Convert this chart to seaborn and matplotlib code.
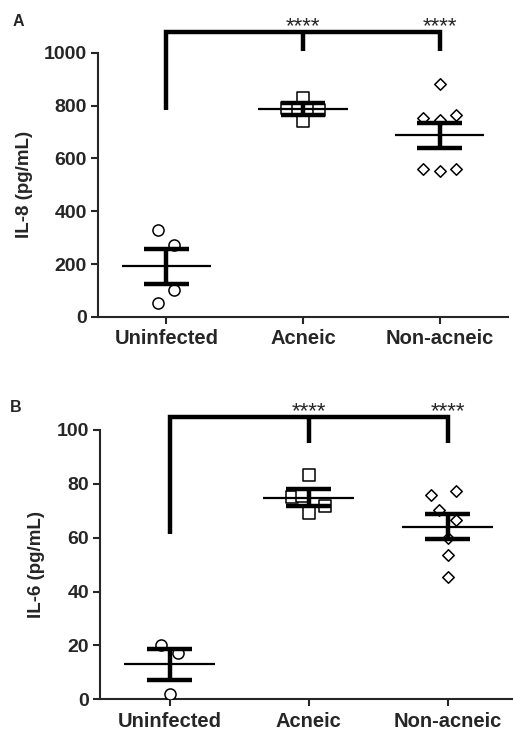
import numpy as np
import pandas as pd
import matplotlib.pyplot as plt
import seaborn as sns

groups = ['Uninfected', 'Acneic', 'Non-acneic']

# Panel A - IL-8 (pg/mL)
il8_uninfected = [330, 273, 102, 53]
il8_acneic = [828, 792, 786, 790, 785, 742]
il8_nonacneic = [881, 752, 746, 765, 561, 551, 561]
il8_mean = [191, 787, 687]
il8_sem = [66, 24, 48]

# Panel B - IL-6 (pg/mL)
il6_uninfected = [20.2, 17.1, 2.0]
il6_acneic = [83.2, 75.2, 75.5, 69.3, 71.8]
il6_nonacneic = [75.9, 77.5, 70.3, 66.6, 59.8, 53.6, 45.5]
il6_mean = [13.0, 74.9, 64.1]
il6_sem = [5.7, 3.2, 4.6]

# horizontal scatter of the dots (like the GraphPad layout), category units
jitter_a = [[-0.06, 0.06, 0.06, -0.06],
            [0, -0.12, -0.035, 0.04, 0.12, 0],
            [0, -0.12, 0, 0.12, -0.12, 0, 0.12]]
jitter_b = [[-0.06, 0.06, 0],
            [0, -0.12, -0.05, 0, 0.12],
            [-0.12, 0.06, -0.06, 0.06, 0, 0, 0]]

markers = ['o', 's', 'D']
marker_sizes = [64, 70, 34]

sns.set_style('ticks')
plt.rcParams['font.family'] = ['Liberation Sans', 'DejaVu Sans']


def draw_panel(ax, values, jitter, means, sems, ylabel, ymax, step, bracket):
    for i, (vals, jit) in enumerate(zip(values, jitter)):
        df = pd.DataFrame({'x': i + np.array(jit), 'y': vals})
        sns.scatterplot(data=df, x='x', y='y', marker=markers[i], s=marker_sizes[i],
                        facecolor='white', edgecolor='black', linewidth=1.1,
                        ax=ax, zorder=3, legend=False)
    pos = np.arange(len(groups))
    means = np.array(means)
    sems = np.array(sems)
    ax.hlines(means, pos - 0.327, pos + 0.327, color='black', lw=1.6, zorder=4)
    ax.hlines(means + sems, pos - 0.163, pos + 0.163, color='black', lw=3.2, zorder=4)
    ax.hlines(means - sems, pos - 0.163, pos + 0.163, color='black', lw=3.2, zorder=4)
    ax.vlines(pos, means - sems, means + sems, color='black', lw=3.2, zorder=4)

    # significance bracket
    top, left_end, leg_end = bracket
    ax.plot([0, 0, 2, 2], [left_end, top, top, leg_end], color='black', lw=3.2,
            clip_on=False, solid_joinstyle='miter', solid_capstyle='butt')
    ax.plot([1, 1], [top, leg_end], color='black', lw=3.2, clip_on=False,
            solid_capstyle='butt')
    for xi in [1, 2]:
        ax.text(xi, top, '****', ha='center', va='baseline', fontsize=16,
                family=['Liberation Sans', 'DejaVu Sans'])

    ax.set_ylim(0, ymax)
    ax.set_yticks(np.arange(0, ymax + 1, step))
    ax.set_xticks(pos)
    ax.set_xticklabels(groups)
    ax.set_xlabel('')
    ax.set_ylabel(ylabel, fontsize=13.5, fontweight='bold', labelpad=8)
    for lab in ax.get_xticklabels() + ax.get_yticklabels():
        lab.set_fontweight('bold')
    ax.tick_params(axis='x', labelsize=14.5, length=5, width=1.5, pad=4)
    ax.tick_params(axis='y', labelsize=14, length=5, width=1.5, pad=3)
    for side in ['left', 'bottom']:
        ax.spines[side].set_linewidth(1.5)
    sns.despine(ax=ax)


fig = plt.figure(figsize=(5.13, 7.30), dpi=100)
ax_a = fig.add_axes([0.191, 0.566, 0.799, 0.3616])
ax_b = fig.add_axes([0.195, 0.042, 0.805, 0.369])

draw_panel(ax_a, [il8_uninfected, il8_acneic, il8_nonacneic], jitter_a,
           il8_mean, il8_sem, 'IL-8 (pg/mL)', 1000, 200, (1078, 784, 1008))
ax_a.set_xlim(-0.5, 2.5)

draw_panel(ax_b, [il6_uninfected, il6_acneic, il6_nonacneic], jitter_b,
           il6_mean, il6_sem, 'IL-6 (pg/mL)', 100, 20, (104.9, 61.3, 95.1))
ax_b.set_xlim(-0.5, 2.47)

fig.text(18 / 513, 1 - 21 / 730, 'A', fontsize=11.5, fontweight='bold', ha='center', va='center')
fig.text(16 / 513, 1 - 407 / 730, 'B', fontsize=11.5, fontweight='bold', ha='center', va='center')

fig.savefig('out.png', dpi=100)
